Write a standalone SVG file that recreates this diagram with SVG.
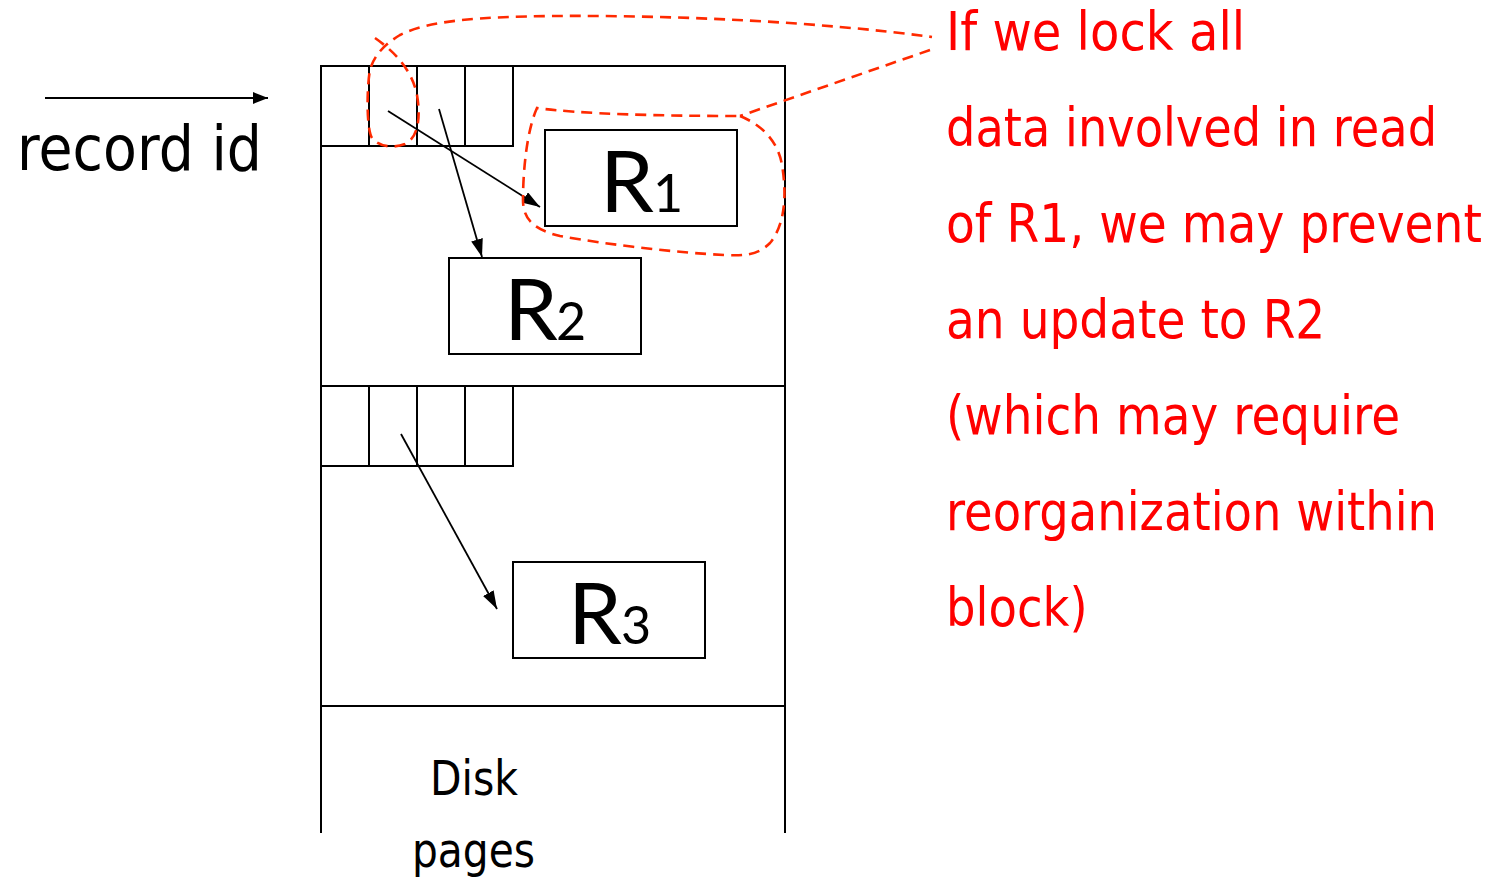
<svg xmlns="http://www.w3.org/2000/svg" width="1498" height="879" viewBox="0 0 1498 879">
<style>
.ln{stroke:#000;stroke-width:2;fill:none}
.box{stroke:#000;stroke-width:2;fill:#fff}
.conn{stroke:#000;stroke-width:1.8;fill:none}
.dash{stroke:#ff2a00;stroke-width:2.6;fill:none;stroke-dasharray:11 7}
.note{font-family:"DejaVu Sans","Liberation Sans",sans-serif;font-size:54px;fill:#ff0000}
.lbl{font-family:"DejaVu Sans","Liberation Sans",sans-serif;fill:#000}
.rr{font-family:Lato,"Noto Sans",sans-serif;fill:#000}
</style>
<defs>
<marker id="ah" markerUnits="userSpaceOnUse" markerWidth="20" markerHeight="14" refX="18" refY="6" orient="auto">
<path d="M0,0 L18,6 L0,12 Z" fill="#000"/>
</marker>
<marker id="ah2" markerUnits="userSpaceOnUse" markerWidth="16" markerHeight="14" refX="15" refY="6" orient="auto">
<path d="M0,0 L15,6 L0,12 Z" fill="#000"/>
</marker>
</defs>
<rect width="1498" height="879" fill="#fff"/>

<g id="page">
<path class="ln" d="M321,833 V66 H785 V833 M321,386 H785 M321,706 H785"/>
</g>
<g id="slots-top">
<rect class="ln" x="321" y="66" width="192" height="80"/>
<path class="ln" d="M369,66 V146 M417,66 V146 M465,66 V146"/>
</g>
<g id="slots-bottom">
<rect class="ln" x="321" y="386" width="192" height="80"/>
<path class="ln" d="M369,386 V466 M417,386 V466 M465,386 V466"/>
</g>

<g id="R1">
<rect class="box" x="545" y="130" width="192" height="96"/>
<text class="rr" x="600" y="212" font-size="86">R</text>
<text class="rr" x="653" y="212" font-size="52">1</text>
</g>
<g id="R2">
<rect class="box" x="449" y="258" width="192" height="96"/>
<text class="rr" x="504" y="340" font-size="86">R</text>
<text class="rr" x="556" y="340" font-size="52">2</text>
</g>
<g id="R3">
<rect class="box" x="513" y="562" width="192" height="96"/>
<text class="rr" x="568" y="644" font-size="86">R</text>
<text class="rr" x="621" y="644" font-size="52">3</text>
</g>

<g id="connectors">
<line class="conn" x1="45" y1="98" x2="268" y2="98" marker-end="url(#ah2)"/>
<line class="conn" x1="388" y1="111" x2="540" y2="207" marker-end="url(#ah)"/>
<line class="conn" x1="439" y1="109" x2="482" y2="257" marker-end="url(#ah)"/>
<line class="conn" x1="401" y1="434" x2="497" y2="609" marker-end="url(#ah)"/>
</g>

<g id="lock-outline">
<path class="dash" d="M375,38 C395,52 412,70 417,95 C421,118 418,138 405,144 C392,149 378,146 372,138 C366,128 367,85 370,70 C374,55 385,44 400,35 C430,20 480,17 550,16 C680,15 820,22 932,37"/>
<path class="dash" d="M930,50 L740,116"/>
<path class="dash" d="M740,116 C760,124 778,140 782,165 C787,195 785,225 770,243 C758,255 745,256 725,255 C680,253 610,245 560,236 C535,230 523,220 523,200 C523,170 527,130 537,108 C580,114 660,116 740,116 Z"/>
</g>

<g id="labels">
<text class="lbl" x="17" y="170" font-size="62" textLength="245" lengthAdjust="spacingAndGlyphs">record id</text>
<text class="lbl" x="430" y="795" font-size="48" textLength="88" lengthAdjust="spacingAndGlyphs">Disk</text>
<text class="lbl" x="412" y="867" font-size="48" textLength="123" lengthAdjust="spacingAndGlyphs">pages</text>
</g>

<g id="note" transform="translate(946,0) scale(0.88,1)">
<text class="note" x="0" y="50" textLength="340" lengthAdjust="spacingAndGlyphs">If we lock all</text>
<text class="note" x="0" y="146" textLength="558" lengthAdjust="spacingAndGlyphs">data involved in read</text>
<text class="note" x="0" y="242" textLength="609" lengthAdjust="spacingAndGlyphs">of R1, we may prevent</text>
<text class="note" x="0" y="338" textLength="431" lengthAdjust="spacingAndGlyphs">an update to R2</text>
<text class="note" x="0" y="434" textLength="516" lengthAdjust="spacingAndGlyphs">(which may require</text>
<text class="note" x="0" y="530" textLength="558" lengthAdjust="spacingAndGlyphs">reorganization within</text>
<text class="note" x="0" y="626" textLength="161" lengthAdjust="spacingAndGlyphs">block)</text>
</g>
</svg>
